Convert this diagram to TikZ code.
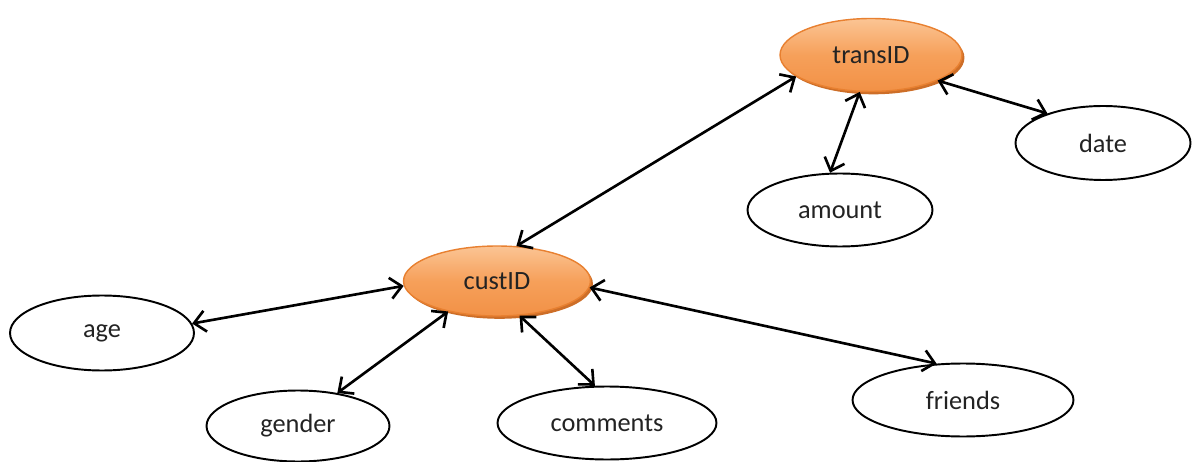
\documentclass[tikz,border=0pt]{standalone}
\usepackage{fontspec}
\setmainfont{Carlito}
\usetikzlibrary{shapes.geometric,arrows.meta,shadows}
\definecolor{orTop}{RGB}{251,196,148}
\definecolor{orMid}{RGB}{246,160,90}
\definecolor{orBot}{RGB}{242,145,70}
\definecolor{orEdge}{RGB}{232,128,48}
\definecolor{orShadow}{RGB}{205,110,40}
\definecolor{txt}{RGB}{35,35,35}
\tikzset{
  attr/.style={ellipse, draw=black, line width=1.1pt, fill=white, inner sep=0pt,
    font=\fontsize{15}{18}\selectfont, text=txt},
  keyn/.style={ellipse, draw=orEdge, line width=0.8pt, inner sep=0pt,
    top color=orTop, bottom color=orBot, middle color=orMid,
    general shadow={fill=orShadow, shadow xshift=1.4pt, shadow yshift=-1.6pt},
    font=\fontsize{15}{18}\selectfont, text=txt},
  link/.style={line width=1.5pt, {Straight Barb[length=6.5pt,width=12pt,line width=1.5pt]}-{Straight Barb[length=6.5pt,width=12pt,line width=1.5pt]}}
}
\begin{document}
\begin{tikzpicture}[x=0.02cm,y=-0.02cm]
\useasboundingbox (0,0) rectangle (1192,462);
% key entities
\node[keyn, minimum width=3.64cm, minimum height=1.46cm] (trans) at (871,55) {transID};
\node[keyn, minimum width=3.74cm, minimum height=1.4cm] (cust) at (497,281) {custID};
% attributes
\node[attr, minimum width=3.68cm, minimum height=1.5cm] (age) at (102,333) {age};
\node[attr, minimum width=3.66cm, minimum height=1.42cm] (gender) at (298,426) {gender};
\node[attr, minimum width=4.38cm, minimum height=1.46cm] (comments) at (607,423) {comments};
\node[attr, minimum width=4.42cm, minimum height=1.46cm] (friends) at (963,400) {friends};
\node[attr, minimum width=3.7cm, minimum height=1.46cm] (amount) at (840,210) {amount};
\node[attr, minimum width=3.5cm, minimum height=1.48cm] (date) at (1103,143) {date};
% connectors
\draw[link] (trans.196) -- (cust.61);
\draw[link] (trans.253) -- (amount.105);
\draw[link] (trans.339) -- (date.152);
\draw[link] (cust.183) -- (age.6);
\draw[link] (cust.212) -- (gender.40);
\draw[link] (cust.303) -- (comments.108);
\draw[link] (cust.356) -- (friends.126);
\end{tikzpicture}
\end{document}
